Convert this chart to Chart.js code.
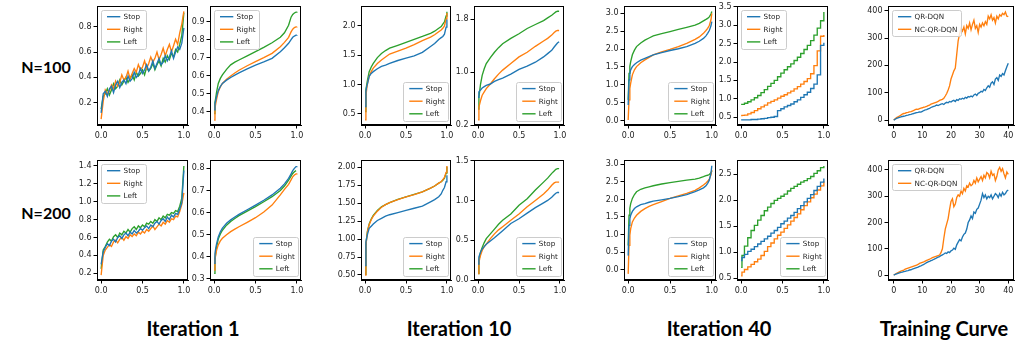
<!DOCTYPE html>
<html><head><meta charset="utf-8">
<script src="https://cdn.jsdelivr.net/npm/chart.js@4.4.0/dist/chart.umd.min.js"></script>
<style>
html,body{margin:0;padding:0;background:#fff}
body{width:1019px;height:347px;position:relative;overflow:hidden}
canvas{position:absolute}
.lab{position:absolute;font-family:Lato,"Open Sans",sans-serif;font-weight:bold;color:#000;white-space:nowrap;transform:translate(-50%,-50%)}
</style></head><body>
<div class="lab" style="left:46px;top:66px;font-size:16px">N=100</div>
<div class="lab" style="left:46px;top:212px;font-size:16px">N=200</div>
<div class="lab" style="left:193px;top:328px;font-size:20px">Iteration 1</div>
<div class="lab" style="left:459px;top:328px;font-size:20px">Iteration 10</div>
<div class="lab" style="left:719px;top:328px;font-size:20px">Iteration 40</div>
<div class="lab" style="left:944px;top:328px;font-size:20px">Training Curve</div>
<script>
// ---------- colours / labels ----------
const BLUE = '#1f77b4', ORANGE = '#ff7f0e', GREEN = '#2ca02c';
const ACTIONS = ['Stop', 'Right', 'Left'];
const METHODS = ['QR-DQN', 'NC-QR-DQN'];

// ---------- x grids ----------
const QX = [0,0.01,0.02,0.03,0.05,0.075,0.1,0.15,0.2,0.25,0.3,0.4,0.5,0.6,0.7,0.8,0.85,0.9,0.93,0.95,0.97,0.99,1.0];
const NX = [0,0.025,0.05,0.075,0.1,0.125,0.15,0.175,0.2,0.225,0.25,0.275,0.3,0.325,0.35,0.375,0.4,0.425,0.45,0.475,0.5,0.525,0.55,0.575,0.6,0.625,0.65,0.675,0.7,0.725,0.75,0.775,0.8,0.825,0.85,0.875,0.9,0.925,0.95,0.975,1.0];
const SX = [0,0.01,0.04,0.08,0.12,0.16,0.2,0.24,0.28,0.32,0.36,0.4,0.44,0.48,0.52,0.56,0.6,0.64,0.68,0.72,0.76,0.8,0.84,0.88,0.92,0.96,1.0];
const EPISODES = [0,0.5,1,1.5,2,2.5,3,3.5,4,4.5,5,5.5,6,6.5,7,7.5,8,8.5,9,9.5,10,10.5,11,11.5,12,12.5,13,13.5,14,14.5,15,15.5,16,16.5,17,17.5,18,18.5,19,19.5,20,20.5,21,21.5,22,22.5,23,23.5,24,24.5,25,25.5,26,26.5,27,27.5,28,28.5,29,29.5,30,30.5,31,31.5,32,32.5,33,33.5,34,34.5,35,35.5,36,36.5,37,37.5,38,38.5,39,39.5,40];

// ---------- N=100, Iteration 1 ----------
const n100_it1a_stop  = [0.12,0.27,0.29,0.25,0.31,0.33,0.28,0.34,0.37,0.32,0.36,0.38,0.35,0.41,0.37,0.39,0.44,0.40,0.42,0.47,0.43,0.46,0.50,0.45,0.48,0.53,0.47,0.51,0.55,0.50,0.52,0.57,0.53,0.56,0.61,0.55,0.60,0.64,0.62,0.67,0.79];
const n100_it1a_right = [0.07,0.21,0.30,0.27,0.29,0.34,0.31,0.37,0.33,0.36,0.42,0.38,0.40,0.45,0.39,0.43,0.47,0.44,0.50,0.46,0.48,0.53,0.47,0.51,0.56,0.52,0.55,0.60,0.54,0.58,0.63,0.57,0.62,0.66,0.60,0.65,0.70,0.66,0.75,0.82,0.92];
const n100_it1a_left  = [0.15,0.25,0.27,0.31,0.26,0.30,0.35,0.31,0.33,0.38,0.34,0.37,0.40,0.36,0.39,0.42,0.38,0.44,0.41,0.43,0.46,0.42,0.48,0.45,0.47,0.51,0.46,0.50,0.53,0.49,0.55,0.52,0.57,0.54,0.59,0.56,0.62,0.60,0.66,0.73,0.91];
const n100_it1b_stop  = [0.41,0.445,0.465,0.485,0.517,0.54,0.557,0.575,0.59,0.603,0.615,0.638,0.659,0.676,0.696,0.733,0.755,0.78,0.80,0.813,0.82,0.825,0.826];
const n100_it1b_right = [0.354,0.42,0.446,0.47,0.511,0.538,0.557,0.58,0.598,0.615,0.63,0.655,0.678,0.70,0.724,0.761,0.785,0.813,0.843,0.858,0.867,0.871,0.872];
const n100_it1b_left  = [0.39,0.45,0.48,0.51,0.557,0.585,0.604,0.635,0.66,0.675,0.687,0.71,0.733,0.757,0.783,0.813,0.838,0.88,0.925,0.94,0.948,0.953,0.955];
// ---------- N=100, Iteration 10 ----------
const n100_it10a_stop  = [0.625,0.88,0.97,1.02,1.14,1.19,1.22,1.27,1.31,1.33,1.36,1.41,1.45,1.49,1.55,1.65,1.70,1.77,1.80,1.82,1.86,1.98,2.11];
const n100_it10a_right = [0.40,0.80,0.93,1.02,1.14,1.22,1.28,1.36,1.42,1.47,1.52,1.57,1.62,1.68,1.75,1.81,1.85,1.90,1.93,1.96,2.0,2.12,2.22];
const n100_it10a_left  = [0.54,0.91,1.00,1.08,1.22,1.30,1.36,1.46,1.53,1.58,1.62,1.67,1.72,1.77,1.82,1.875,1.91,1.96,1.99,2.03,2.07,2.17,2.24];
const n100_it10b_stop  = [0.62,0.70,0.72,0.73,0.76,0.78,0.80,0.82,0.86,0.885,0.91,0.97,1.04,1.09,1.15,1.23,1.28,1.33,1.38,1.41,1.44,1.46,1.46];
const n100_it10b_right = [0.28,0.47,0.52,0.57,0.65,0.70,0.75,0.82,0.90,0.97,1.03,1.13,1.23,1.30,1.39,1.47,1.51,1.56,1.60,1.62,1.63,1.63,1.63];
const n100_it10b_left  = [0.44,0.62,0.72,0.82,0.95,1.05,1.13,1.22,1.30,1.37,1.43,1.51,1.58,1.66,1.72,1.78,1.82,1.86,1.89,1.91,1.92,1.92,1.92];
// ---------- N=100, Iteration 40 ----------
const n100_it40a_stop  = [0.44,1.14,1.32,1.42,1.51,1.57,1.62,1.69,1.74,1.79,1.84,1.90,1.96,2.01,2.07,2.16,2.22,2.30,2.37,2.44,2.52,2.65,2.77];
const n100_it40a_right = [0.02,0.58,0.90,1.05,1.28,1.42,1.51,1.62,1.70,1.77,1.84,1.92,1.99,2.07,2.16,2.27,2.34,2.44,2.52,2.58,2.66,2.82,3.0];
const n100_it40a_left  = [0.58,1.32,1.52,1.65,1.84,1.97,2.07,2.17,2.25,2.31,2.37,2.43,2.49,2.55,2.61,2.67,2.72,2.79,2.83,2.86,2.90,2.98,3.05];
const n100_it40b_stop  = [0.43,0.43,0.43,0.43,0.44,0.44,0.45,0.46,0.47,0.49,0.50,0.52,0.68,0.73,0.78,0.82,0.86,0.92,0.97,1.04,1.11,1.18,1.28,1.40,1.65,2.45,2.52];
const n100_it40b_right = [0.545,0.55,0.56,0.59,0.63,0.68,0.73,0.78,0.83,0.89,0.93,0.97,1.02,1.07,1.11,1.16,1.21,1.27,1.33,1.40,1.47,1.55,1.68,1.90,2.30,2.70,2.73];
const n100_it40b_left  = [0.85,0.85,0.88,0.92,0.97,1.03,1.09,1.17,1.25,1.34,1.42,1.50,1.60,1.70,1.79,1.87,1.95,2.04,2.13,2.23,2.34,2.45,2.58,2.73,2.92,3.12,3.36];
// ---------- N=100, training ----------
const n100_qr   = [0,3,6,8,10,12,13,14,15,17, 18,20,21,23,24,26,27,28,30,29, 32,35,37,38,41,43,46,48,50,52, 55,53,56,58,60,57,62,65,63,68, 66,70,72,68,75,72,78,76,80,77, 83,80,86,84,88,85,92,95,90,98, 100,105,103,112,108,118,125,120,135,140, 130,150,155,145,165,160,170,165,180,195, 208];
const n100_ncqr = [0,5,9,12,15,18,22,24,25,27, 28,30,31,33,35,38,40,39,42,44, 45,47,48,50,53,55,58,60,62,64, 66,68,72,74,76,80,88,97,110,125, 150,165,180,190,240,290,315,335,325,340, 315,345,335,355,330,350,365,335,345,320, 350,340,355,345,360,350,380,370,385,365, 375,355,380,370,385,380,390,385,395,380, 378];

// ---------- N=200, Iteration 1 ----------
const n200_it1a_stop  = [0.30,0.44,0.49,0.53,0.51,0.56,0.58,0.55,0.60,0.62,0.59,0.63,0.65,0.62,0.66,0.64,0.68,0.65,0.67,0.70,0.68,0.71,0.73,0.70,0.74,0.72,0.76,0.78,0.75,0.79,0.81,0.78,0.83,0.80,0.85,0.83,0.87,0.86,0.92,0.99,1.35];
const n200_it1a_right = [0.18,0.40,0.46,0.49,0.52,0.50,0.55,0.57,0.54,0.58,0.60,0.57,0.61,0.59,0.63,0.61,0.64,0.62,0.66,0.64,0.67,0.65,0.69,0.67,0.70,0.73,0.69,0.72,0.75,0.73,0.77,0.75,0.79,0.77,0.81,0.80,0.84,0.83,0.89,0.97,1.10];
const n200_it1a_left  = [0.25,0.46,0.50,0.55,0.58,0.56,0.61,0.63,0.60,0.65,0.63,0.67,0.65,0.69,0.66,0.70,0.72,0.69,0.73,0.71,0.74,0.72,0.76,0.75,0.78,0.76,0.80,0.78,0.82,0.80,0.84,0.82,0.86,0.85,0.88,0.87,0.90,0.89,0.95,1.04,1.40];
const n200_it1b_stop  = [0.37,0.415,0.44,0.46,0.49,0.513,0.53,0.552,0.567,0.58,0.592,0.613,0.634,0.656,0.68,0.71,0.73,0.755,0.775,0.79,0.80,0.808,0.81];
const n200_it1b_right = [0.34,0.39,0.41,0.43,0.454,0.472,0.484,0.50,0.514,0.525,0.536,0.556,0.577,0.603,0.634,0.68,0.705,0.728,0.748,0.762,0.77,0.775,0.777];
const n200_it1b_left  = [0.325,0.39,0.42,0.445,0.48,0.503,0.52,0.543,0.56,0.573,0.586,0.607,0.627,0.649,0.672,0.70,0.72,0.747,0.765,0.777,0.785,0.79,0.79];
// ---------- N=200, Iteration 10 ----------
const n200_it10a_stop  = [0.63,0.96,1.02,1.07,1.15,1.18,1.21,1.26,1.29,1.32,1.34,1.37,1.40,1.43,1.46,1.52,1.55,1.59,1.63,1.68,1.72,1.80,1.89];
const n200_it10a_right = [0.50,0.90,1.02,1.11,1.20,1.27,1.32,1.39,1.445,1.48,1.51,1.55,1.59,1.62,1.66,1.71,1.74,1.78,1.80,1.83,1.86,1.93,2.02];
const n200_it10a_left  = [0.51,0.91,1.03,1.12,1.21,1.28,1.33,1.40,1.45,1.48,1.51,1.555,1.59,1.625,1.66,1.71,1.74,1.78,1.80,1.82,1.85,1.92,2.01];
const n200_it10b_stop  = [0.20,0.29,0.32,0.35,0.39,0.42,0.45,0.49,0.53,0.575,0.62,0.71,0.77,0.84,0.91,0.97,1.00,1.04,1.07,1.09,1.10,1.10,1.10];
const n200_it10b_right = [0.08,0.22,0.27,0.31,0.37,0.42,0.45,0.52,0.58,0.63,0.67,0.75,0.83,0.92,1.00,1.08,1.13,1.19,1.22,1.23,1.23,1.23,1.23];
const n200_it10b_left  = [0.08,0.24,0.30,0.35,0.41,0.47,0.52,0.58,0.64,0.70,0.75,0.83,0.94,1.02,1.13,1.23,1.28,1.34,1.37,1.39,1.40,1.40,1.40];
// ---------- N=200, Iteration 40 ----------
const n200_it40a_stop  = [0.40,1.26,1.45,1.55,1.66,1.74,1.79,1.85,1.88,1.92,1.95,1.99,2.03,2.08,2.14,2.22,2.27,2.33,2.39,2.46,2.55,2.75,2.96];
const n200_it40a_right = [-0.12,0.69,0.98,1.17,1.36,1.47,1.55,1.66,1.74,1.80,1.85,1.94,2.03,2.10,2.17,2.26,2.33,2.41,2.47,2.52,2.58,2.70,2.84];
const n200_it40a_left  = [0.69,1.55,1.75,1.88,2.03,2.14,2.22,2.29,2.33,2.36,2.39,2.44,2.48,2.515,2.55,2.58,2.61,2.65,2.68,2.69,2.71,2.76,2.81];
const n200_it40b_stop  = [0.84,0.90,0.96,1.02,1.06,1.11,1.16,1.21,1.26,1.31,1.37,1.42,1.48,1.55,1.60,1.66,1.71,1.77,1.84,1.90,1.97,2.04,2.11,2.19,2.27,2.35,2.42];
const n200_it40b_right = [0.55,0.62,0.67,0.72,0.77,0.82,0.87,0.94,1.02,1.11,1.18,1.26,1.33,1.39,1.46,1.53,1.60,1.67,1.74,1.82,1.90,1.97,2.05,2.12,2.20,2.28,2.37];
const n200_it40b_left  = [0.71,0.94,1.12,1.28,1.42,1.52,1.62,1.71,1.80,1.87,1.94,2.00,2.04,2.08,2.12,2.18,2.23,2.27,2.31,2.35,2.38,2.42,2.46,2.52,2.57,2.63,2.66];
// ---------- N=200, training ----------
const n200_qr   = [0,2,4,6,8,10,11,13,14,16, 17,19,20,22,24,26,28,30,33,35, 38,40,44,47,50,52,55,57,60,62, 65,68,70,74,77,80,84,82,88,85, 92,95,102,98,115,125,135,130,145,155, 160,175,200,210,225,215,240,235,250,255, 270,285,310,295,305,290,300,295,305,290, 300,310,305,295,310,300,315,305,310,320, 323];
const n200_ncqr = [0,3,6,9,12,15,17,19,22,24, 26,28,30,32,34,36,38,40,44,46, 48,50,53,56,58,60,63,66,68,70, 72,74,76,85,100,140,175,195,215,250, 280,290,260,270,295,305,300,320,310,330, 320,340,335,350,340,345,360,350,370,355, 365,375,360,380,370,390,385,370,395,380, 385,360,375,400,410,395,405,385,370,392, 383];

// ---------- tick labels ----------
const QTICKS = [0, 0.5, 1.0];
const EPTICKS = [0, 10, 20, 30, 40];

// ---------- layout ----------
const COLS = [[97,188],[210,301],[361,451],[474,564],[624,716],[737,828],[888,1014]];
const ROWS = [[6,125],[160,280]];

const mplPlugin = {
  id: 'mpl',
  afterDatasetsDraw(chart, args, opts) {
    const ctx = chart.ctx, ca = chart.chartArea;
    ctx.save();
    ctx.strokeStyle = '#000'; ctx.lineWidth = 1;
    const l = Math.round(ca.left) + 0.5, t = Math.round(ca.top) + 0.5;
    const r = Math.round(ca.right) - 0.5, b = Math.round(ca.bottom) - 0.5;
    ctx.strokeRect(l, t, r - l, b - t);
    const ds = chart.data.datasets;
    ctx.font = '7.2px "DejaVu Sans"';
    let tw = 0; ds.forEach(d => tw = Math.max(tw, ctx.measureText(d.label).width));
    const rowH = 12.6, w = 22.6 + tw + 3.7, h = 13.4 + (ds.length - 1) * rowH;
    let x0, y0;
    if (opts.pos === 'ul') { x0 = ca.left + 4; y0 = ca.top + 4; }
    else { x0 = ca.right - 2.5 - w; y0 = ca.bottom - 4.5 - h; }
    ctx.beginPath();
    ctx.roundRect(Math.round(x0) + 0.5, Math.round(y0) + 0.5, Math.round(w), Math.round(h), 2);
    ctx.fillStyle = 'rgba(255,255,255,0.8)'; ctx.fill();
    ctx.strokeStyle = '#cccccc'; ctx.lineWidth = 1; ctx.stroke();
    ds.forEach((d, i) => {
      const cy = y0 + 6.7 + i * rowH;
      ctx.beginPath(); ctx.strokeStyle = d.borderColor; ctx.lineWidth = 1.4;
      ctx.moveTo(x0 + 6, cy); ctx.lineTo(x0 + 19.3, cy); ctx.stroke();
      ctx.fillStyle = '#222'; ctx.textBaseline = 'middle'; ctx.textAlign = 'left';
      ctx.fillText(d.label, x0 + 22.6, cy + 0.5);
    });
    ctx.restore();
  }
};

function axis(min, max, ticks, dec, isY) {
  const PAD = isY ? 2 : 3;
  return {
    type: 'linear', min, max,
    afterBuildTicks: s => { s.ticks = ticks.map(v => ({ value: v })); },
    afterFit: s => {
      if (isY) { s.width = 30; s.paddingTop = 0; s.paddingBottom = 0; }
      else { s.height = 20; s.paddingLeft = 0; s.paddingRight = 0; }
    },
    ticks: { callback: v => Number(v).toFixed(dec), font: { size: 8, family: 'DejaVu Sans' }, color: '#222', padding: PAD, maxRotation: 0, autoSkip: false },
    grid: { display: true, drawOnChartArea: false, drawTicks: true, tickLength: 3.5, color: '#000', lineWidth: 1 },
    border: { display: true, color: '#000', width: 1 }
  };
}

function plot(col, row, xs, sets, cfg) {
  const [L, R] = COLS[col], [T, B] = ROWS[row];
  const PT = 8, PR = 12, YW = 30, XH = 20;
  const W = R - L + YW + PR, H = B - T + PT + XH;
  const c = document.createElement('canvas');
  c.width = W; c.height = H;
  c.style.left = (L - YW) + 'px'; c.style.top = (T - PT) + 'px';
  c.style.width = W + 'px'; c.style.height = H + 'px';
  document.body.appendChild(c);
  new Chart(c, {
    type: 'line',
    data: { datasets: sets.map(s => ({
      label: s[0], data: xs.map((x, i) => ({ x, y: s[1][i] })),
      borderColor: s[2], backgroundColor: s[2], borderWidth: 1.35, pointRadius: 0,
      fill: false, tension: 0, stepped: cfg.stepped || false
    })) },
    options: {
      responsive: false, animation: false, devicePixelRatio: 1,
      layout: { padding: { top: PT, right: PR, left: 0, bottom: 0 } },
      plugins: { legend: { display: false }, tooltip: { enabled: false }, mpl: { pos: cfg.leg } },
      scales: {
        x: cfg.x || axis(-0.05, 1.05, QTICKS, 1, false),
        y: axis(cfg.y[0], cfg.y[1], cfg.yt, cfg.yd, true)
      }
    },
    plugins: [mplPlugin]
  });
}

const three = (a, b, c) => [[ACTIONS[0], a, BLUE], [ACTIONS[1], b, ORANGE], [ACTIONS[2], c, GREEN]];
const epAxis = () => axis(-2, 42, EPTICKS, 0, false);

// Row N=100
plot(0, 0, NX, three(n100_it1a_stop, n100_it1a_right, n100_it1a_left), { y: [0.024, 0.963], yt: [0.2,0.4,0.6,0.8], yd: 1, leg: 'ul' });
plot(1, 0, QX, three(n100_it1b_stop, n100_it1b_right, n100_it1b_left), { y: [0.326, 0.987], yt: [0.4,0.5,0.6,0.7,0.8,0.9], yd: 1, leg: 'ul' });
plot(2, 0, QX, three(n100_it10a_stop, n100_it10a_right, n100_it10a_left), { y: [0.31, 2.34], yt: [0.5,1.0,1.5,2.0], yd: 1, leg: 'lr' });
plot(3, 0, QX, three(n100_it10b_stop, n100_it10b_right, n100_it10b_left), { y: [0.2, 2.0], yt: [0.2,1.0,1.8], yd: 1, leg: 'lr' });
plot(4, 0, QX, three(n100_it40a_stop, n100_it40a_right, n100_it40a_left), { y: [-0.122, 3.205], yt: [0,0.5,1.0,1.5,2.0,2.5,3.0], yd: 1, leg: 'lr' });
plot(5, 0, SX, three(n100_it40b_stop, n100_it40b_right, n100_it40b_left), { y: [0.29, 3.52], yt: [0.5,1.0,1.5,2.0,2.5,3.0,3.5], yd: 1, leg: 'ul', stepped: 'before' });
plot(6, 0, EPISODES, [[METHODS[0], n100_qr, BLUE], [METHODS[1], n100_ncqr, ORANGE]], { y: [-18, 417], yt: [0,100,200,300,400], yd: 0, leg: 'ul', x: epAxis() });

// Row N=200
plot(0, 1, NX, three(n200_it1a_stop, n200_it1a_right, n200_it1a_left), { y: [0.125, 1.467], yt: [0.2,0.4,0.6,0.8,1.0,1.2,1.4], yd: 1, leg: 'ul' });
plot(1, 1, QX, three(n200_it1b_stop, n200_it1b_right, n200_it1b_left), { y: [0.295, 0.838], yt: [0.3,0.4,0.5,0.6,0.7,0.8], yd: 1, leg: 'lr' });
plot(2, 1, QX, three(n200_it10a_stop, n200_it10a_right, n200_it10a_left), { y: [0.43, 2.103], yt: [0.5,0.75,1.0,1.25,1.5,1.75,2.0], yd: 2, leg: 'lr' });
plot(3, 1, QX, three(n200_it10b_stop, n200_it10b_right, n200_it10b_left), { y: [0.0, 1.508], yt: [0,0.5,1.0,1.5], yd: 1, leg: 'lr' });
plot(4, 1, QX, three(n200_it40a_stop, n200_it40a_right, n200_it40a_left), { y: [-0.295, 3.124], yt: [0,0.5,1.0,1.5,2.0,2.5,3.0], yd: 1, leg: 'lr' });
plot(5, 1, SX, three(n200_it40b_stop, n200_it40b_right, n200_it40b_left), { y: [0.468, 2.777], yt: [0.5,1.0,1.5,2.0,2.5], yd: 1, leg: 'lr', stepped: 'before' });
plot(6, 1, EPISODES, [[METHODS[0], n200_qr, BLUE], [METHODS[1], n200_ncqr, ORANGE]], { y: [-19, 438], yt: [0,100,200,300,400], yd: 0, leg: 'ul', x: epAxis() });
</script>
</body></html>
